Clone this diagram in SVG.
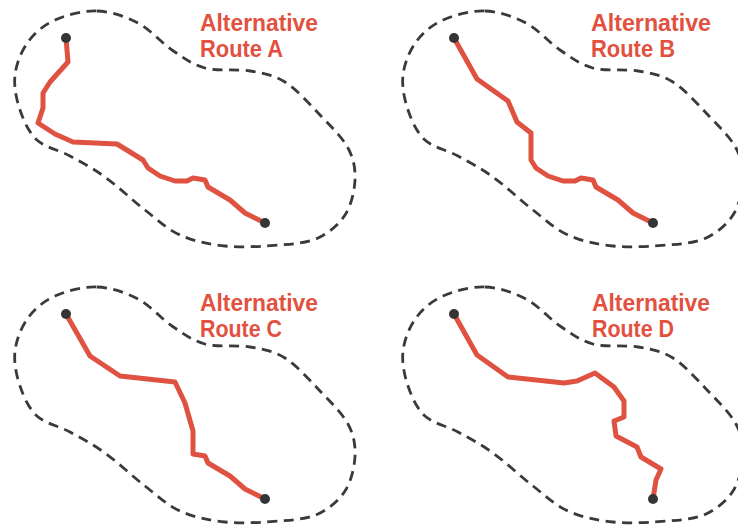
<svg xmlns="http://www.w3.org/2000/svg" xmlns:xlink="http://www.w3.org/1999/xlink" width="738" height="527" viewBox="0 0 738 527">
<style>
.blob{fill:none;stroke:#3a3a3a;stroke-width:2.8;stroke-dasharray:10 6.5}
.route{fill:none;stroke:#DF5241;stroke-width:5;stroke-linejoin:round;stroke-linecap:butt}
.dot{fill:#353535}
.lbl{font-family:"Liberation Sans",Arial,sans-serif;font-weight:bold;font-size:24px;fill:#E2513F}
</style>
<defs>
<path id="area" class="blob" d="M97,11 C110.8,11.5 125.5,16.5 138,23 C150.5,29.5 160.8,42.5 172,50 C183.2,57.5 192,64.5 205,68 C218,71.5 236.7,68.7 250,71 C263.3,73.3 273.3,74.7 285,82 C296.7,89.3 309.5,104 320,115 C330.5,126 342.2,137.2 348,148 C353.8,158.8 355.5,168.8 355,180 C354.5,191.2 351.2,205.3 345,215 C338.8,224.7 328.8,233 318,238 C307.2,243 295.5,243.7 280,245 C264.5,246.3 241.7,247.7 225,246 C208.3,244.3 193.3,241 180,235 C166.7,229 157.5,219.7 145,210 C132.5,200.3 117.5,186 105,177 C92.5,168 81.3,162.2 70,156 C58.7,149.8 45.3,147.7 37,140 C28.7,132.3 23.7,120.8 20,110 C16.3,99.2 13.7,86.3 15,75 C16.3,63.7 21.3,51.2 28,42 C34.7,32.8 43.5,25.2 55,20 C66.5,14.8 83.2,10.5 97,11 Z"/>
</defs>
<g id="route-a">
<use xlink:href="#area" href="#area"/>
<polyline class="route" points="66,38 68,62 50,82 43,93 43,108 38,123 55,134 73,142 117,144 143,160 148,168 160,176 175,181 187,181 193,178 205,180 208,187 230,200 245,213 265,223"/>
<circle class="dot" cx="66" cy="38" r="5"/>
<circle class="dot" cx="265" cy="223" r="5"/>
<text class="lbl" x="200" y="31" textLength="118" lengthAdjust="spacingAndGlyphs">Alternative</text>
<text class="lbl" x="200" y="56.5" textLength="83" lengthAdjust="spacingAndGlyphs">Route A</text>
</g>
<g id="route-b">
<use xlink:href="#area" href="#area" transform="translate(388,0)"/>
<polyline class="route" points="454,38 477,79 508,101 517,122 531,133 531,160 536,168 548,176 563,181 575,181 581,178 593,180 596,187 618,200 633,213 653,223"/>
<circle class="dot" cx="454" cy="38" r="5"/>
<circle class="dot" cx="653" cy="223" r="5"/>
<text class="lbl" x="591" y="31" textLength="120" lengthAdjust="spacingAndGlyphs">Alternative</text>
<text class="lbl" x="591" y="56.5" textLength="84" lengthAdjust="spacingAndGlyphs">Route B</text>
</g>
<g id="route-c">
<use xlink:href="#area" href="#area" transform="translate(0,276)"/>
<polyline class="route" points="66,314 90,356 120,376 175,382 185,403 193,431 193,454 205,456 208,463 230,476 245,489 265,499"/>
<circle class="dot" cx="66" cy="314" r="5"/>
<circle class="dot" cx="265" cy="499" r="5"/>
<text class="lbl" x="200" y="311" textLength="118" lengthAdjust="spacingAndGlyphs">Alternative</text>
<text class="lbl" x="200" y="336.5" textLength="82" lengthAdjust="spacingAndGlyphs">Route C</text>
</g>
<g id="route-d">
<use xlink:href="#area" href="#area" transform="translate(388,276)"/>
<polyline class="route" points="454,314 477,355 508,377 564,383 577,381 595,373 614,387 624,401 624,417 614,421 616,436 637,447 641,457 661,469 656,480 653,499"/>
<circle class="dot" cx="454" cy="314" r="5"/>
<circle class="dot" cx="653" cy="499" r="5"/>
<text class="lbl" x="592" y="311" textLength="118" lengthAdjust="spacingAndGlyphs">Alternative</text>
<text class="lbl" x="592" y="336.5" textLength="82" lengthAdjust="spacingAndGlyphs">Route D</text>
</g>
</svg>
